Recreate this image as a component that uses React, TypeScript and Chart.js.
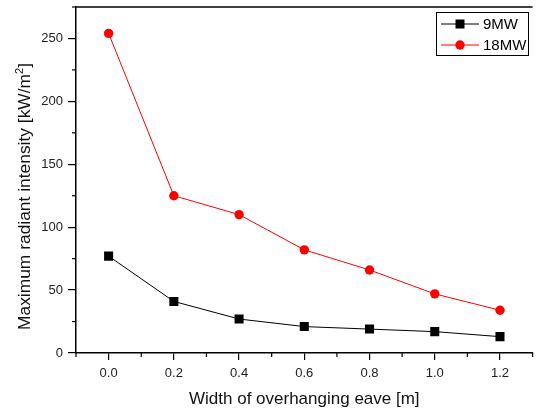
import React, { useEffect, useRef } from "react";
import { Chart, registerables } from "chart.js";

Chart.register(...registerables);

const widths = [0.0, 0.2, 0.4, 0.6, 0.8, 1.0, 1.2];
const mw9 = [77, 41, 27, 21, 19, 17, 13];
const mw18 = [254, 125, 110, 82, 66, 47, 34];
const seriesNames = ["9MW", "18MW"];
const xTicks = [0.0, 0.2, 0.4, 0.6, 0.8, 1.0, 1.2];
const yTicks = [0, 50, 100, 150, 200, 250];
const xTitle = "Width of overhanging eave [m]";
const yTitleParts = ["Maximum radiant intensity [kW/m", "2", "]"];

const FONT = "'Liberation Sans', Arial, sans-serif";

const decorPlugin = {
  id: "decor",
  afterDraw(chart: any) {
    const ctx = chart.ctx;
    const { left, right, top, bottom } = chart.chartArea;
    const xs = chart.scales.x;
    const ys = chart.scales.y;
    ctx.save();
    ctx.strokeStyle = "#000";
    ctx.lineWidth = 1.5;
    ctx.beginPath();
    ctx.moveTo(left, top);
    ctx.lineTo(right, top);
    ctx.stroke();
    ctx.lineWidth = 1.2;
    for (let v = -0.1; v <= 1.31; v += 0.2) {
      const px = xs.getPixelForValue(v);
      ctx.beginPath();
      ctx.moveTo(px, bottom);
      ctx.lineTo(px, bottom + 4);
      ctx.stroke();
    }
    for (let v = 25; v <= 275; v += 50) {
      const py = ys.getPixelForValue(v);
      ctx.beginPath();
      ctx.moveTo(left, py);
      ctx.lineTo(left - 4, py);
      ctx.stroke();
    }
    // y-axis title with superscript
    ctx.save();
    ctx.translate(30, 196.5);
    ctx.rotate(-Math.PI / 2);
    ctx.fillStyle = "#111";
    ctx.textBaseline = "alphabetic";
    ctx.textAlign = "left";
    const mainFont = `17.4px ${FONT}`;
    const supFont = `11px ${FONT}`;
    ctx.font = mainFont;
    const w0 = ctx.measureText(yTitleParts[0]).width;
    const w2 = ctx.measureText(yTitleParts[2]).width;
    ctx.font = supFont;
    const w1 = ctx.measureText(yTitleParts[1]).width;
    let cx = -(w0 + w1 + w2) / 2;
    ctx.font = mainFont;
    ctx.fillText(yTitleParts[0], cx, 0);
    cx += w0;
    ctx.font = supFont;
    ctx.fillText(yTitleParts[1], cx, -7);
    cx += w1;
    ctx.font = mainFont;
    ctx.fillText(yTitleParts[2], cx, 0);
    ctx.restore();
    // legend
    const bx = 436, by = 12, bw = 92, bh = 43;
    ctx.lineWidth = 1;
    ctx.strokeStyle = "#000";
    ctx.strokeRect(bx + 0.5, by + 0.5, bw, bh);
    const ds = chart.data.datasets;
    const rows = [24, 45];
    ds.forEach((d: any, i: number) => {
      const y = rows[i];
      ctx.strokeStyle = d.borderColor;
      ctx.lineWidth = 1;
      ctx.beginPath();
      ctx.moveTo(441, y);
      ctx.lineTo(479, y);
      ctx.stroke();
      ctx.fillStyle = d.pointBackgroundColor;
      if (d.pointStyle === "rect") {
        ctx.fillRect(460 - 4.5, y - 4.5, 9, 9);
      } else {
        ctx.beginPath();
        ctx.arc(460, y, 4.7, 0, Math.PI * 2);
        ctx.fill();
      }
      ctx.fillStyle = "#000";
      ctx.font = `15px ${FONT}`;
      ctx.textBaseline = "middle";
      ctx.textAlign = "left";
      ctx.fillText(d.label, 483, y + 1);
    });
    ctx.restore();
  },
};

export default function App() {
  const ref = useRef<HTMLCanvasElement>(null);
  useEffect(() => {
    if (!ref.current) return;
    const chart = new Chart(ref.current, {
      type: "line",
      data: {
        datasets: [
          {
            label: seriesNames[0],
            data: widths.map((x, i) => ({ x, y: mw9[i] })),
            borderColor: "#000000",
            backgroundColor: "#000000",
            pointBackgroundColor: "#000000",
            pointBorderColor: "#000000",
            pointStyle: "rect",
            pointRadius: 6.4,
            borderWidth: 1,
            pointBorderWidth: 0,
          },
          {
            label: seriesNames[1],
            data: widths.map((x, i) => ({ x, y: mw18[i] })),
            borderColor: "#ff0000",
            backgroundColor: "#ff0000",
            pointBackgroundColor: "#ff0000",
            pointBorderColor: "#ff0000",
            pointStyle: "circle",
            pointRadius: 4.7,
            borderWidth: 1,
            pointBorderWidth: 0,
          },
        ],
      },
      options: {
        animation: false,
        responsive: false,
        layout: { padding: { top: 7, right: 0, left: 0, bottom: 0 } },
        plugins: { legend: { display: false }, tooltip: { enabled: false } },
        scales: {
          x: {
            type: "linear",
            min: -0.1,
            max: 1.3,
            afterFit: (s: any) => {
              s.height = 57;
              s.paddingLeft = 0;
              s.paddingRight = 0;
            },
            afterBuildTicks: (s: any) => {
              s.ticks = xTicks.map((v) => ({ value: v }));
            },
            ticks: {
              font: { family: FONT, size: 13 },
              color: "#222",
              padding: 6,
              callback: (v: any) => Number(v).toFixed(1),
            },
            grid: {
              drawOnChartArea: false,
              drawTicks: true,
              tickLength: 7,
              color: "#000",
              lineWidth: 1.2,
            },
            border: { display: true, color: "#000", width: 1.5 },
            title: {
              display: true,
              text: xTitle,
              font: { family: FONT, size: 17 },
              color: "#111",
              padding: { top: 2, bottom: 0 },
            },
          },
          y: {
            type: "linear",
            min: 0,
            max: 275,
            afterFit: (s: any) => {
              s.width = 76;
              s.paddingTop = 0;
              s.paddingBottom = 0;
            },
            afterBuildTicks: (s: any) => {
              s.ticks = yTicks.map((v) => ({ value: v }));
            },
            ticks: {
              font: { family: FONT, size: 13 },
              color: "#222",
              padding: 5,
            },
            grid: {
              drawOnChartArea: false,
              drawTicks: true,
              tickLength: 8,
              color: "#000",
              lineWidth: 1.2,
            },
            border: { display: true, color: "#000", width: 1.5 },
            title: { display: false },
          },
        },
      },
      plugins: [decorPlugin],
    } as any);
    return () => chart.destroy();
  }, []);
  return (
    <div style={{ position: "fixed", left: 0, top: 0, width: 539, height: 410, background: "#fff" }}>
      <canvas ref={ref} width={539} height={410} style={{ width: 539, height: 410 }} />
    </div>
  );
}
